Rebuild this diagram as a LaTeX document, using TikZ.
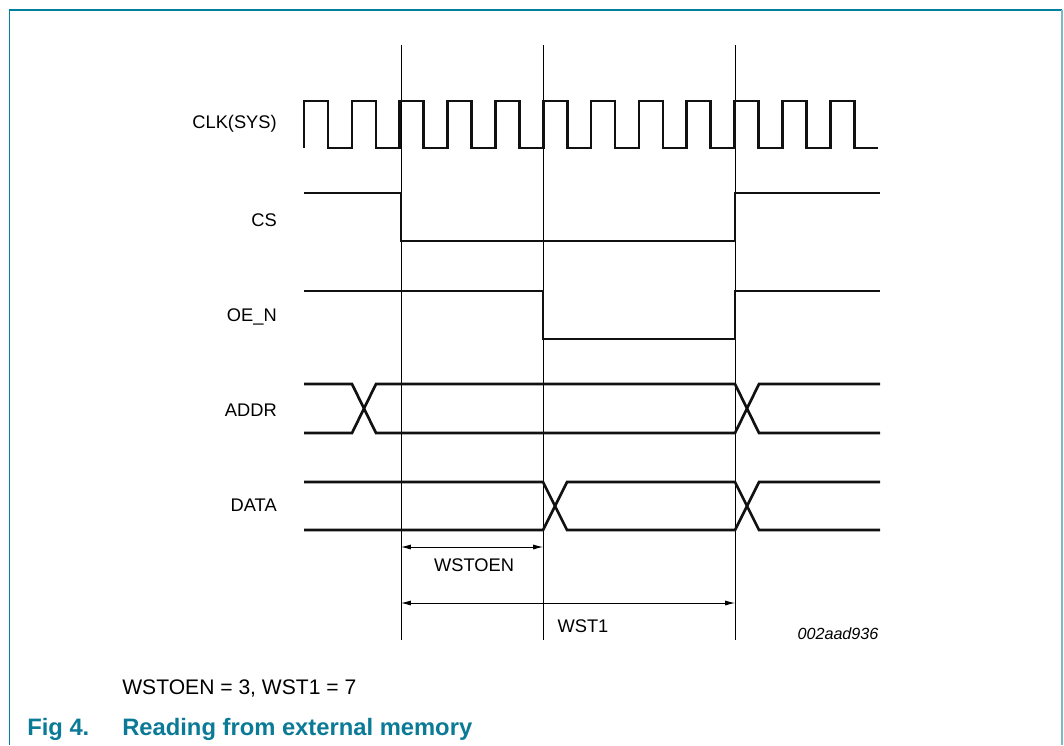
\documentclass[tikz,border=0pt]{standalone}
\usepackage{fontspec}
\setmainfont{Liberation Sans}
\usetikzlibrary{arrows.meta, positioning, calc}
\definecolor{nxpteal}{HTML}{00809C}
\definecolor{ltteal}{HTML}{7DB9C6}
\definecolor{captteal}{HTML}{0A7A96}
\definecolor{sigblack}{HTML}{111111}

\begin{document}
\begin{tikzpicture}[x=0.025cm, y=-0.025cm,
  >={Latex[length=7pt, width=3.6pt]},
  sig/.style={sigblack, line width=1.9pt, line join=miter},
  marker/.style={black, line width=0.7pt},
  dimline/.style={black, line width=0.6pt, <->},
  lbl/.style={font=\fontsize{13pt}{15pt}\selectfont, inner sep=0pt}]

\useasboundingbox (0,0) rectangle (1064,745);

% Frame
\draw[nxpteal, line width=0.9pt] (9.5,745) -- (9.5,10) -- (1062,10);
\draw[ltteal, line width=1.6pt] (1062,10) -- (1062,745);

% Signal names (right aligned)
\node[lbl, anchor=east] (clk) at (277,124) {CLK(SYS)};
\node[lbl, anchor=east] (cs)  at (277,220) {CS};
\node[lbl, anchor=east] (oen) at (277,317) {OE\_N};
\node[lbl, anchor=east] (addr) at (277,410) {ADDR};
\node[lbl, anchor=east] (data) at (277,505) {DATA};

% Reference lines: t0 = CS falls, t1 = OE_N falls, t2 = end of access
\coordinate (t0) at (401,45);
\coordinate (t1) at (543,45);
\coordinate (t2) at (735,45);
\foreach \t in {t0,t1,t2} {
  \draw[marker] (\t) -- ($(\t)+(0,595)$);
}

% Clock: 12 periods of 47.85
\draw[sig] (304,148) \foreach \k in {0,...,11} {
  -- ++(0,-47) -- ++(24,0) -- ++(0,47) -- ++(23.85,0) };

% CS
\draw[sig] (304,193) -- (401,193) -- (401,241) -- (735,241)
  -- (735,193) -- (880,193);

% OE_N
\draw[sig] (304,291) -- (543,291) -- (543,339) -- (735,339)
  -- (735,291) -- (880,291);

% ADDR (bus, changes at 352 and 735)
\draw[sig] (304,384) -- (352,384) -- (376,433) -- (735,433)
  -- (759,384) -- (880,384);
\draw[sig] (304,433) -- (352,433) -- (376,384) -- (735,384)
  -- (759,433) -- (880,433);

% DATA (bus, changes at 543 and 735)
\draw[sig] (304,482) -- (543,482) -- (567,530) -- (735,530)
  -- (759,482) -- (880,482);
\draw[sig] (304,530) -- (543,530) -- (567,482) -- (735,482)
  -- (759,530) -- (880,530);

% Wait state dimensions
\coordinate (wa) at (401,547);
\coordinate (wb) at (543,547);
\coordinate (wc) at (401,603);
\coordinate (wd) at (735,603);
\draw[dimline] (wa) -- (wb);
\node[lbl] (wstoen) at (474,565) {WSTOEN};
\draw[dimline] (wc) -- (wd);
\node[lbl] (wst) at (583,626) {WST1};

% Drawing id
\node[font=\fontsize{11.5pt}{13pt}\selectfont\itshape, inner sep=0pt]
  (fid) at (838,634) {002aad936};

% Note and caption
\node[font=\fontsize{15pt}{17pt}\selectfont, inner sep=0pt, anchor=west]
  (note) at (122,688) {WSTOEN = 3, WST1 = 7};
\node[font=\fontsize{16.9pt}{19pt}\selectfont\bfseries, text=captteal,
  inner sep=0pt, anchor=west] (fig) at (27,729) {Fig 4.};
\node[font=\fontsize{16.9pt}{19pt}\selectfont\bfseries, text=captteal,
  inner sep=0pt, anchor=west] (title) at (122,729) {Reading from external memory};

\end{tikzpicture}
\end{document}
